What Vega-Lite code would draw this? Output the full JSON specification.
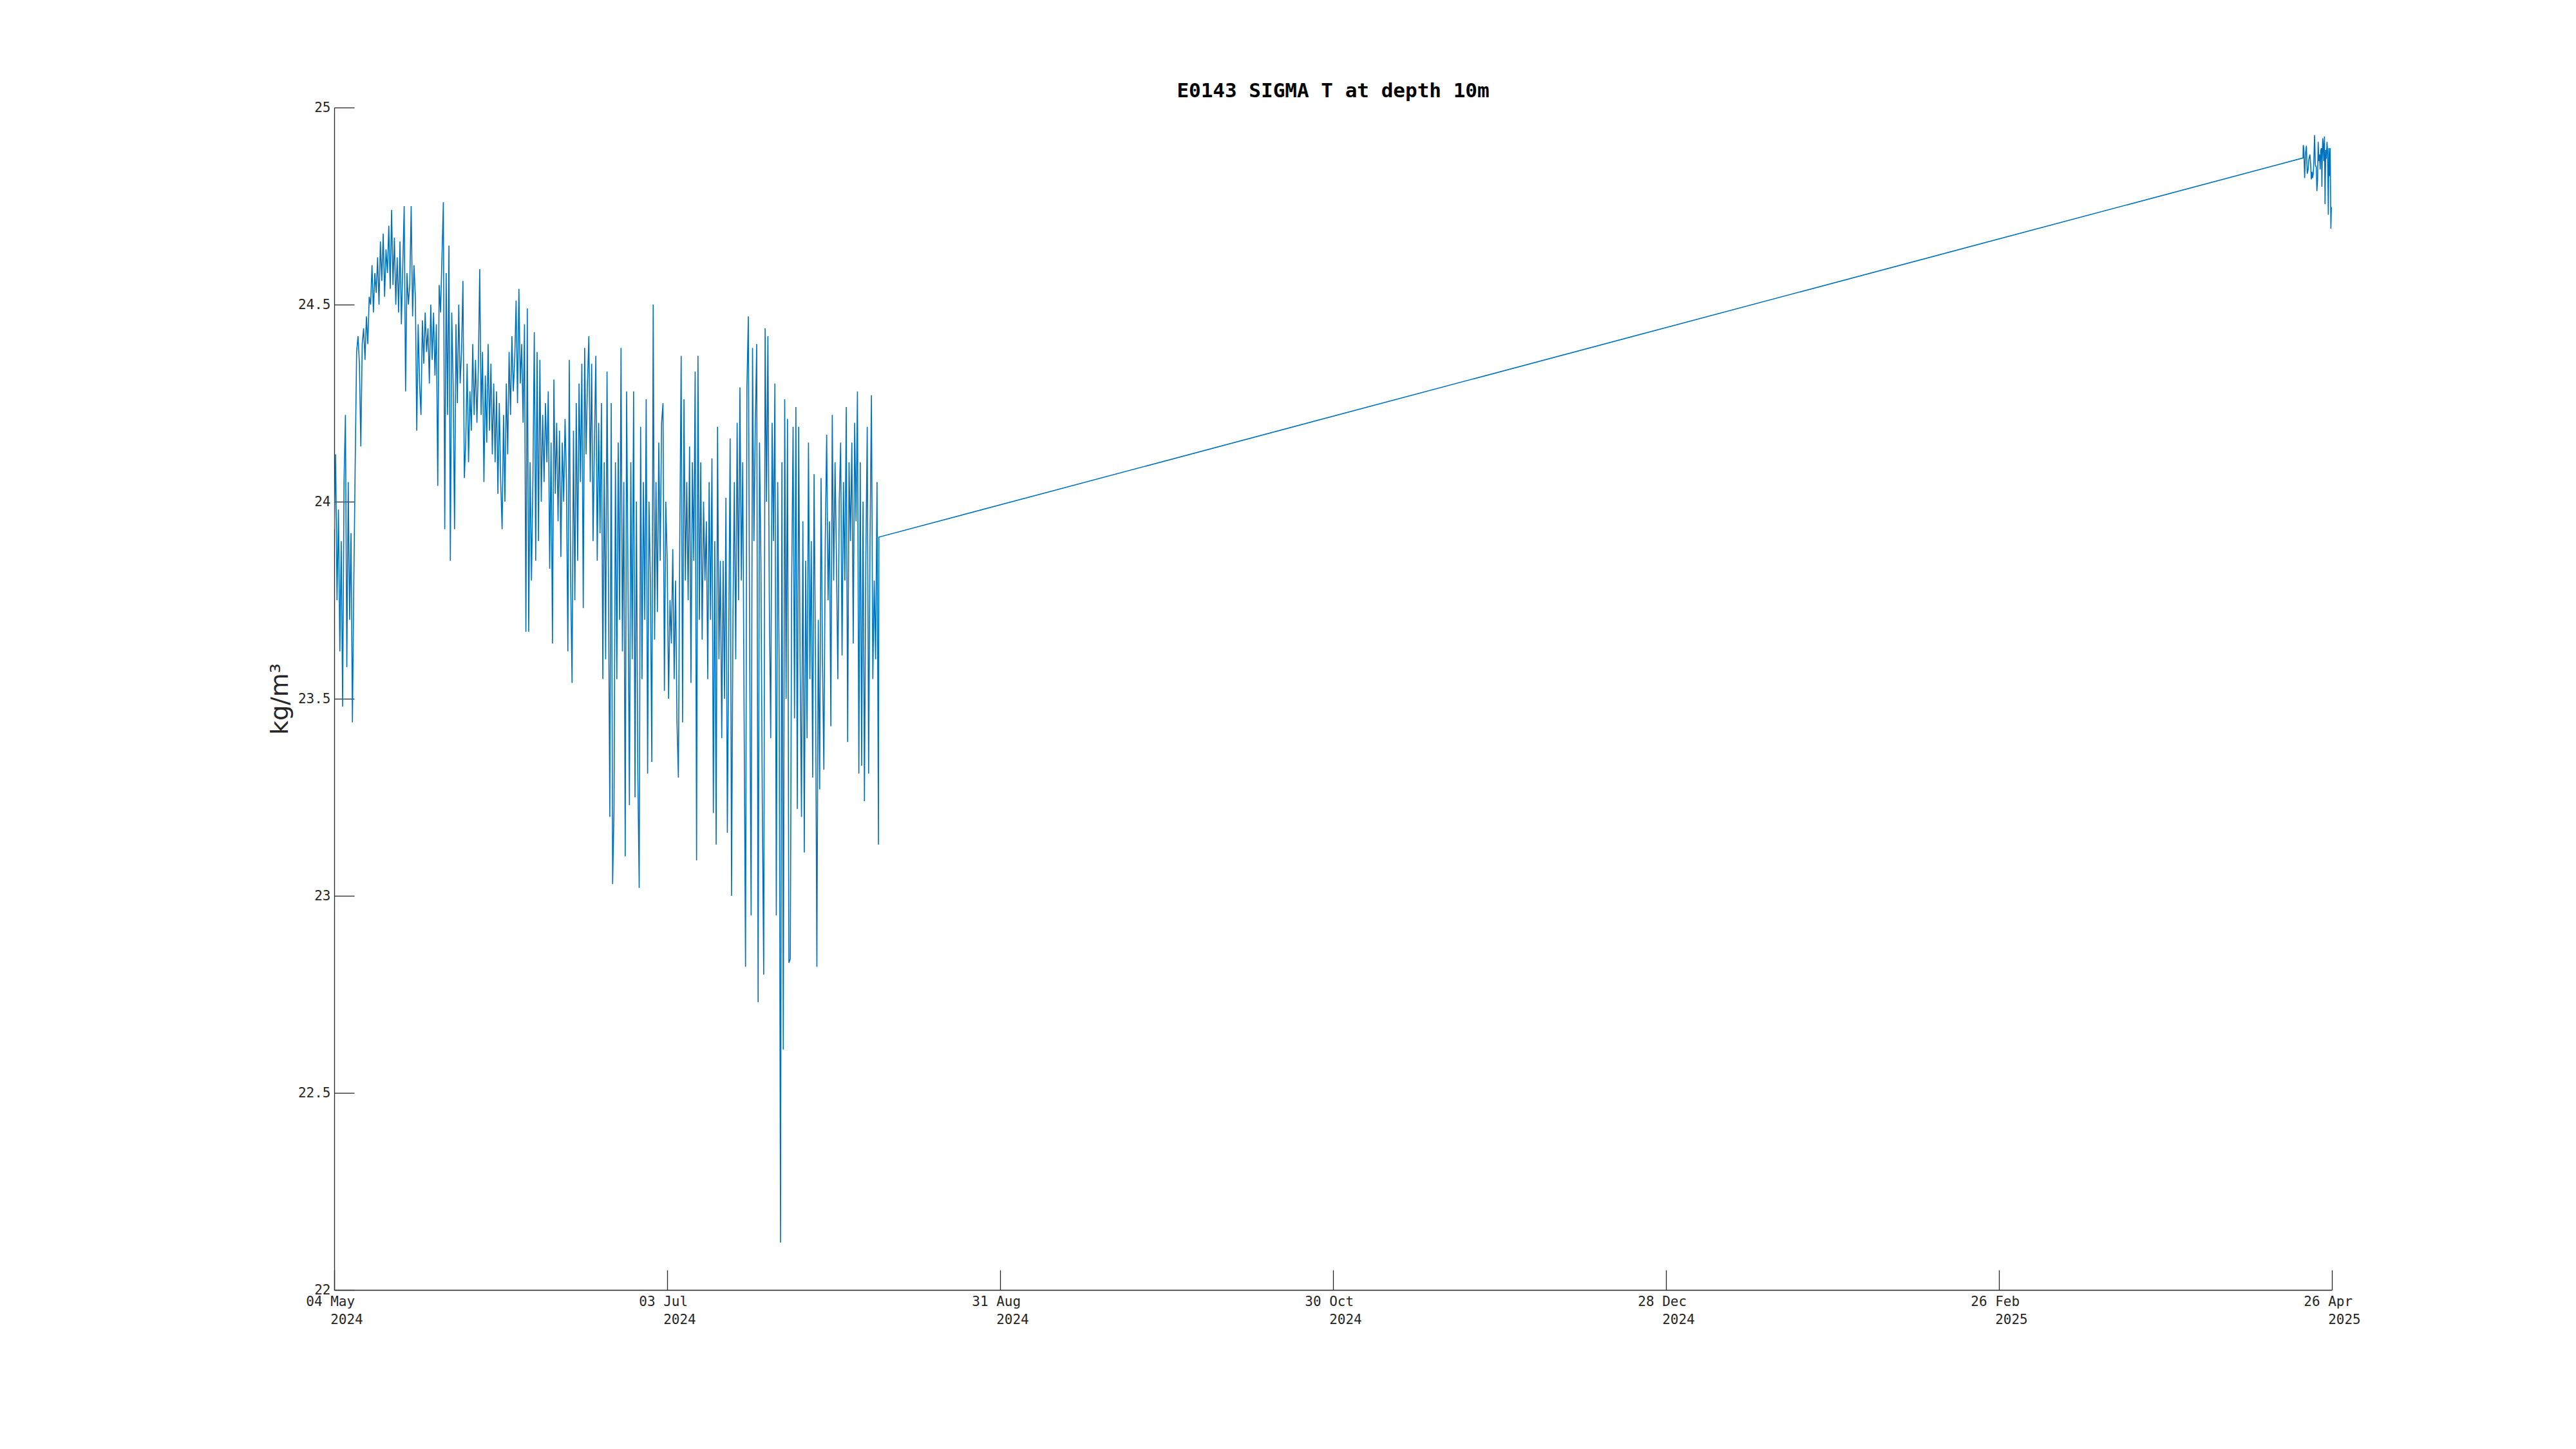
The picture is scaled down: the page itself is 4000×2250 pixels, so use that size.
{
"$schema":"https://vega.github.io/schema/vega-lite/v6.json",
"autosize":{"type":"none"},
"width":3102,"height":1836,
"padding":{"left":519,"top":167,"right":379,"bottom":247},
"background":"white",
"config":{"view":{"stroke":null}},
"title":{"text":"E0143 SIGMA T at depth 10m","font":"DejaVu Sans Mono","fontSize":31,"fontWeight":"bold","color":"#000000","anchor":"middle","frame":"group","baseline":"alphabetic","offset":15,"dy":41},
"data":{"values":[
{"t":"2024-05-04T12:00","v":23.93},{"t":"2024-05-04T18:00","v":24.12},
{"t":"2024-05-05T00:00","v":23.75},{"t":"2024-05-05T06:00","v":23.98},{"t":"2024-05-05T12:00","v":23.62},{"t":"2024-05-05T18:00","v":23.90},
{"t":"2024-05-06T00:00","v":23.48},{"t":"2024-05-06T06:00","v":24.05},{"t":"2024-05-06T12:00","v":24.22},{"t":"2024-05-06T18:00","v":23.58},
{"t":"2024-05-07T00:00","v":24.05},{"t":"2024-05-07T06:00","v":23.70},{"t":"2024-05-07T12:00","v":23.92},{"t":"2024-05-07T18:00","v":23.44},
{"t":"2024-05-08T00:00","v":23.80},{"t":"2024-05-08T06:00","v":24.10},{"t":"2024-05-08T12:00","v":24.38},{"t":"2024-05-08T18:00","v":24.42},
{"t":"2024-05-09T00:00","v":24.35},{"t":"2024-05-09T06:00","v":24.14},{"t":"2024-05-09T12:00","v":24.40},{"t":"2024-05-09T18:00","v":24.44},
{"t":"2024-05-10T00:00","v":24.36},{"t":"2024-05-10T06:00","v":24.47},{"t":"2024-05-10T12:00","v":24.40},{"t":"2024-05-10T18:00","v":24.52},
{"t":"2024-05-11T00:00","v":24.50},{"t":"2024-05-11T06:00","v":24.60},{"t":"2024-05-11T12:00","v":24.48},{"t":"2024-05-11T18:00","v":24.58},
{"t":"2024-05-12T00:00","v":24.53},{"t":"2024-05-12T06:00","v":24.62},{"t":"2024-05-12T12:00","v":24.50},{"t":"2024-05-12T18:00","v":24.66},
{"t":"2024-05-13T00:00","v":24.56},{"t":"2024-05-13T06:00","v":24.68},{"t":"2024-05-13T12:00","v":24.52},{"t":"2024-05-13T18:00","v":24.64},
{"t":"2024-05-14T00:00","v":24.58},{"t":"2024-05-14T06:00","v":24.70},{"t":"2024-05-14T12:00","v":24.54},{"t":"2024-05-14T18:00","v":24.74},
{"t":"2024-05-15T00:00","v":24.55},{"t":"2024-05-15T06:00","v":24.67},{"t":"2024-05-15T12:00","v":24.50},{"t":"2024-05-15T18:00","v":24.62},
{"t":"2024-05-16T00:00","v":24.48},{"t":"2024-05-16T06:00","v":24.66},{"t":"2024-05-16T12:00","v":24.45},{"t":"2024-05-16T18:00","v":24.60},
{"t":"2024-05-17T00:00","v":24.75},{"t":"2024-05-17T06:00","v":24.28},{"t":"2024-05-17T12:00","v":24.58},{"t":"2024-05-17T18:00","v":24.50},
{"t":"2024-05-18T00:00","v":24.55},{"t":"2024-05-18T06:00","v":24.75},{"t":"2024-05-18T12:00","v":24.47},{"t":"2024-05-18T18:00","v":24.60},
{"t":"2024-05-19T00:00","v":24.52},{"t":"2024-05-19T06:00","v":24.18},{"t":"2024-05-19T12:00","v":24.45},{"t":"2024-05-19T18:00","v":24.30},
{"t":"2024-05-20T00:00","v":24.22},{"t":"2024-05-20T06:00","v":24.46},{"t":"2024-05-20T12:00","v":24.35},{"t":"2024-05-20T18:00","v":24.48},
{"t":"2024-05-21T00:00","v":24.38},{"t":"2024-05-21T06:00","v":24.44},{"t":"2024-05-21T12:00","v":24.30},{"t":"2024-05-21T18:00","v":24.50},
{"t":"2024-05-22T00:00","v":24.36},{"t":"2024-05-22T06:00","v":24.48},{"t":"2024-05-22T12:00","v":24.32},{"t":"2024-05-22T18:00","v":24.45},
{"t":"2024-05-23T00:00","v":24.04},{"t":"2024-05-23T06:00","v":24.55},{"t":"2024-05-23T12:00","v":24.48},{"t":"2024-05-23T18:00","v":24.62},
{"t":"2024-05-24T00:00","v":24.76},{"t":"2024-05-24T06:00","v":23.93},{"t":"2024-05-24T12:00","v":24.58},{"t":"2024-05-24T18:00","v":24.22},
{"t":"2024-05-25T00:00","v":24.65},{"t":"2024-05-25T06:00","v":23.85},{"t":"2024-05-25T12:00","v":24.48},{"t":"2024-05-25T18:00","v":24.30},
{"t":"2024-05-26T00:00","v":23.93},{"t":"2024-05-26T06:00","v":24.45},{"t":"2024-05-26T12:00","v":24.25},{"t":"2024-05-26T18:00","v":24.50},
{"t":"2024-05-27T00:00","v":24.30},{"t":"2024-05-27T06:00","v":24.38},{"t":"2024-05-27T12:00","v":24.56},{"t":"2024-05-27T18:00","v":24.06},
{"t":"2024-05-28T00:00","v":24.15},{"t":"2024-05-28T06:00","v":24.35},{"t":"2024-05-28T12:00","v":24.10},{"t":"2024-05-28T18:00","v":24.28},
{"t":"2024-05-29T00:00","v":24.18},{"t":"2024-05-29T06:00","v":24.40},{"t":"2024-05-29T12:00","v":24.22},{"t":"2024-05-29T18:00","v":24.36},
{"t":"2024-05-30T00:00","v":24.20},{"t":"2024-05-30T06:00","v":24.34},{"t":"2024-05-30T12:00","v":24.59},{"t":"2024-05-30T18:00","v":24.22},
{"t":"2024-05-31T00:00","v":24.38},{"t":"2024-05-31T06:00","v":24.05},{"t":"2024-05-31T12:00","v":24.32},{"t":"2024-05-31T18:00","v":24.15},
{"t":"2024-06-01T00:00","v":24.40},{"t":"2024-06-01T06:00","v":24.18},{"t":"2024-06-01T12:00","v":24.35},{"t":"2024-06-01T18:00","v":24.12},
{"t":"2024-06-02T00:00","v":24.30},{"t":"2024-06-02T06:00","v":24.10},{"t":"2024-06-02T12:00","v":24.28},{"t":"2024-06-02T18:00","v":24.02},
{"t":"2024-06-03T00:00","v":24.25},{"t":"2024-06-03T06:00","v":24.05},{"t":"2024-06-03T12:00","v":23.93},{"t":"2024-06-03T18:00","v":24.22},
{"t":"2024-06-04T00:00","v":24.00},{"t":"2024-06-04T06:00","v":24.30},{"t":"2024-06-04T12:00","v":24.12},{"t":"2024-06-04T18:00","v":24.38},
{"t":"2024-06-05T00:00","v":24.22},{"t":"2024-06-05T06:00","v":24.42},{"t":"2024-06-05T12:00","v":24.28},{"t":"2024-06-05T18:00","v":24.36},
{"t":"2024-06-06T00:00","v":24.51},{"t":"2024-06-06T06:00","v":24.25},{"t":"2024-06-06T12:00","v":24.54},{"t":"2024-06-06T18:00","v":24.30},
{"t":"2024-06-07T00:00","v":24.40},{"t":"2024-06-07T06:00","v":24.20},{"t":"2024-06-07T12:00","v":24.45},{"t":"2024-06-07T18:00","v":23.67},
{"t":"2024-06-08T00:00","v":24.49},{"t":"2024-06-08T06:00","v":23.67},{"t":"2024-06-08T12:00","v":24.10},{"t":"2024-06-08T18:00","v":23.80},
{"t":"2024-06-09T00:00","v":24.05},{"t":"2024-06-09T06:00","v":24.43},{"t":"2024-06-09T12:00","v":23.85},{"t":"2024-06-09T18:00","v":24.38},
{"t":"2024-06-10T00:00","v":23.90},{"t":"2024-06-10T06:00","v":24.36},{"t":"2024-06-10T12:00","v":24.00},{"t":"2024-06-10T18:00","v":24.22},
{"t":"2024-06-11T00:00","v":24.05},{"t":"2024-06-11T06:00","v":24.25},{"t":"2024-06-11T12:00","v":24.10},{"t":"2024-06-11T18:00","v":24.28},
{"t":"2024-06-12T00:00","v":23.83},{"t":"2024-06-12T06:00","v":24.15},{"t":"2024-06-12T12:00","v":23.64},{"t":"2024-06-12T18:00","v":24.31},
{"t":"2024-06-13T00:00","v":24.02},{"t":"2024-06-13T06:00","v":24.20},{"t":"2024-06-13T12:00","v":23.95},{"t":"2024-06-13T18:00","v":24.18},
{"t":"2024-06-14T00:00","v":23.86},{"t":"2024-06-14T06:00","v":24.15},{"t":"2024-06-14T12:00","v":24.00},{"t":"2024-06-14T18:00","v":24.21},
{"t":"2024-06-15T00:00","v":24.05},{"t":"2024-06-15T06:00","v":23.62},{"t":"2024-06-15T12:00","v":24.36},{"t":"2024-06-15T18:00","v":23.80},
{"t":"2024-06-16T00:00","v":23.54},{"t":"2024-06-16T06:00","v":24.18},{"t":"2024-06-16T12:00","v":23.75},{"t":"2024-06-16T18:00","v":24.25},
{"t":"2024-06-17T00:00","v":23.85},{"t":"2024-06-17T06:00","v":24.30},{"t":"2024-06-17T12:00","v":24.05},{"t":"2024-06-17T18:00","v":24.35},
{"t":"2024-06-18T00:00","v":23.73},{"t":"2024-06-18T06:00","v":24.39},{"t":"2024-06-18T12:00","v":24.12},{"t":"2024-06-18T18:00","v":24.30},
{"t":"2024-06-19T00:00","v":24.42},{"t":"2024-06-19T06:00","v":24.05},{"t":"2024-06-19T12:00","v":24.35},{"t":"2024-06-19T18:00","v":23.90},
{"t":"2024-06-20T00:00","v":24.15},{"t":"2024-06-20T06:00","v":24.37},{"t":"2024-06-20T12:00","v":23.85},{"t":"2024-06-20T18:00","v":24.20},
{"t":"2024-06-21T00:00","v":23.92},{"t":"2024-06-21T06:00","v":24.25},{"t":"2024-06-21T12:00","v":23.55},{"t":"2024-06-21T18:00","v":24.10},
{"t":"2024-06-22T00:00","v":23.60},{"t":"2024-06-22T06:00","v":24.33},{"t":"2024-06-22T12:00","v":23.80},{"t":"2024-06-22T18:00","v":23.20},
{"t":"2024-06-23T00:00","v":24.25},{"t":"2024-06-23T06:00","v":23.03},{"t":"2024-06-23T12:00","v":23.22},{"t":"2024-06-23T18:00","v":24.10},
{"t":"2024-06-24T00:00","v":23.55},{"t":"2024-06-24T06:00","v":24.15},{"t":"2024-06-24T12:00","v":23.70},{"t":"2024-06-24T18:00","v":24.39},
{"t":"2024-06-25T00:00","v":23.62},{"t":"2024-06-25T06:00","v":24.05},{"t":"2024-06-25T12:00","v":23.10},{"t":"2024-06-25T18:00","v":24.28},
{"t":"2024-06-26T00:00","v":23.80},{"t":"2024-06-26T06:00","v":23.23},{"t":"2024-06-26T12:00","v":24.10},{"t":"2024-06-26T18:00","v":23.60},
{"t":"2024-06-27T00:00","v":24.28},{"t":"2024-06-27T06:00","v":23.25},{"t":"2024-06-27T12:00","v":24.00},{"t":"2024-06-27T18:00","v":23.31},
{"t":"2024-06-28T00:00","v":23.02},{"t":"2024-06-28T06:00","v":24.19},{"t":"2024-06-28T12:00","v":23.55},{"t":"2024-06-28T18:00","v":24.05},
{"t":"2024-06-29T00:00","v":23.70},{"t":"2024-06-29T06:00","v":24.26},{"t":"2024-06-29T12:00","v":23.31},{"t":"2024-06-29T18:00","v":24.00},
{"t":"2024-06-30T00:00","v":23.80},{"t":"2024-06-30T06:00","v":23.34},{"t":"2024-06-30T12:00","v":24.50},{"t":"2024-06-30T18:00","v":23.65},
{"t":"2024-07-01T00:00","v":24.05},{"t":"2024-07-01T06:00","v":23.72},{"t":"2024-07-01T12:00","v":24.15},{"t":"2024-07-01T18:00","v":23.85},
{"t":"2024-07-02T00:00","v":24.20},{"t":"2024-07-02T06:00","v":24.25},{"t":"2024-07-02T12:00","v":23.52},{"t":"2024-07-02T18:00","v":24.00},
{"t":"2024-07-03T00:00","v":23.85},{"t":"2024-07-03T06:00","v":23.50},{"t":"2024-07-03T12:00","v":23.75},{"t":"2024-07-03T18:00","v":23.64},
{"t":"2024-07-04T00:00","v":23.88},{"t":"2024-07-04T06:00","v":23.55},{"t":"2024-07-04T12:00","v":23.80},{"t":"2024-07-04T18:00","v":23.44},
{"t":"2024-07-05T00:00","v":23.30},{"t":"2024-07-05T06:00","v":23.90},{"t":"2024-07-05T12:00","v":24.37},{"t":"2024-07-05T18:00","v":23.44},
{"t":"2024-07-06T00:00","v":24.26},{"t":"2024-07-06T06:00","v":23.80},{"t":"2024-07-06T12:00","v":24.05},{"t":"2024-07-06T18:00","v":23.75},
{"t":"2024-07-07T00:00","v":24.14},{"t":"2024-07-07T06:00","v":23.54},{"t":"2024-07-07T12:00","v":24.10},{"t":"2024-07-07T18:00","v":23.85},
{"t":"2024-07-08T00:00","v":24.33},{"t":"2024-07-08T06:00","v":23.09},{"t":"2024-07-08T12:00","v":24.37},{"t":"2024-07-08T18:00","v":23.70},
{"t":"2024-07-09T00:00","v":24.10},{"t":"2024-07-09T06:00","v":23.65},{"t":"2024-07-09T12:00","v":24.00},{"t":"2024-07-09T18:00","v":23.80},
{"t":"2024-07-10T00:00","v":23.95},{"t":"2024-07-10T06:00","v":23.55},{"t":"2024-07-10T12:00","v":24.05},{"t":"2024-07-10T18:00","v":23.70},
{"t":"2024-07-11T00:00","v":24.11},{"t":"2024-07-11T06:00","v":23.21},{"t":"2024-07-11T12:00","v":23.90},{"t":"2024-07-11T18:00","v":23.13},
{"t":"2024-07-12T00:00","v":24.19},{"t":"2024-07-12T06:00","v":23.60},{"t":"2024-07-12T12:00","v":23.85},{"t":"2024-07-12T18:00","v":23.40},
{"t":"2024-07-13T00:00","v":23.85},{"t":"2024-07-13T06:00","v":23.50},{"t":"2024-07-13T12:00","v":24.01},{"t":"2024-07-13T18:00","v":23.16},
{"t":"2024-07-14T00:00","v":23.65},{"t":"2024-07-14T06:00","v":24.16},{"t":"2024-07-14T12:00","v":23.00},{"t":"2024-07-14T18:00","v":23.70},
{"t":"2024-07-15T00:00","v":24.05},{"t":"2024-07-15T06:00","v":23.60},{"t":"2024-07-15T12:00","v":24.20},{"t":"2024-07-15T18:00","v":23.75},
{"t":"2024-07-16T00:00","v":24.29},{"t":"2024-07-16T06:00","v":23.80},{"t":"2024-07-16T12:00","v":24.10},{"t":"2024-07-16T18:00","v":23.45},
{"t":"2024-07-17T00:00","v":22.82},{"t":"2024-07-17T06:00","v":24.29},{"t":"2024-07-17T12:00","v":24.47},{"t":"2024-07-17T18:00","v":23.60},
{"t":"2024-07-18T00:00","v":22.95},{"t":"2024-07-18T06:00","v":24.39},{"t":"2024-07-18T12:00","v":23.90},{"t":"2024-07-18T18:00","v":24.20},
{"t":"2024-07-19T00:00","v":24.40},{"t":"2024-07-19T06:00","v":22.73},{"t":"2024-07-19T12:00","v":24.15},{"t":"2024-07-19T18:00","v":23.85},
{"t":"2024-07-20T00:00","v":23.23},{"t":"2024-07-20T06:00","v":22.80},{"t":"2024-07-20T12:00","v":24.44},{"t":"2024-07-20T18:00","v":24.00},
{"t":"2024-07-21T00:00","v":24.42},{"t":"2024-07-21T06:00","v":23.75},{"t":"2024-07-21T12:00","v":23.40},{"t":"2024-07-21T18:00","v":24.20},
{"t":"2024-07-22T00:00","v":23.90},{"t":"2024-07-22T06:00","v":24.30},{"t":"2024-07-22T12:00","v":22.95},{"t":"2024-07-22T18:00","v":24.05},
{"t":"2024-07-23T00:00","v":23.60},{"t":"2024-07-23T06:00","v":22.12},{"t":"2024-07-23T12:00","v":24.10},{"t":"2024-07-23T18:00","v":22.61},
{"t":"2024-07-24T00:00","v":24.26},{"t":"2024-07-24T06:00","v":23.50},{"t":"2024-07-24T12:00","v":24.21},{"t":"2024-07-24T18:00","v":22.83},
{"t":"2024-07-25T00:00","v":22.84},{"t":"2024-07-25T06:00","v":23.80},{"t":"2024-07-25T12:00","v":24.19},{"t":"2024-07-25T18:00","v":23.45},
{"t":"2024-07-26T00:00","v":24.24},{"t":"2024-07-26T06:00","v":23.22},{"t":"2024-07-26T12:00","v":24.19},{"t":"2024-07-26T18:00","v":23.60},
{"t":"2024-07-27T00:00","v":23.20},{"t":"2024-07-27T06:00","v":23.95},{"t":"2024-07-27T12:00","v":23.11},{"t":"2024-07-27T18:00","v":23.85},
{"t":"2024-07-28T00:00","v":23.40},{"t":"2024-07-28T06:00","v":24.15},{"t":"2024-07-28T12:00","v":23.55},{"t":"2024-07-28T18:00","v":23.90},
{"t":"2024-07-29T00:00","v":23.30},{"t":"2024-07-29T06:00","v":24.07},{"t":"2024-07-29T12:00","v":23.60},{"t":"2024-07-29T18:00","v":22.82},
{"t":"2024-07-30T00:00","v":23.70},{"t":"2024-07-30T06:00","v":23.27},{"t":"2024-07-30T12:00","v":24.06},{"t":"2024-07-30T18:00","v":23.60},
{"t":"2024-07-31T00:00","v":23.32},{"t":"2024-07-31T06:00","v":23.90},{"t":"2024-07-31T12:00","v":24.17},{"t":"2024-07-31T18:00","v":23.75},
{"t":"2024-08-01T00:00","v":23.95},{"t":"2024-08-01T06:00","v":23.43},{"t":"2024-08-01T12:00","v":24.22},{"t":"2024-08-01T18:00","v":23.80},
{"t":"2024-08-02T00:00","v":24.10},{"t":"2024-08-02T06:00","v":23.85},{"t":"2024-08-02T12:00","v":23.55},{"t":"2024-08-02T18:00","v":24.00},
{"t":"2024-08-03T00:00","v":24.15},{"t":"2024-08-03T06:00","v":23.61},{"t":"2024-08-03T12:00","v":24.05},{"t":"2024-08-03T18:00","v":23.80},
{"t":"2024-08-04T00:00","v":24.24},{"t":"2024-08-04T06:00","v":23.39},{"t":"2024-08-04T12:00","v":24.10},{"t":"2024-08-04T18:00","v":23.90},
{"t":"2024-08-05T00:00","v":24.15},{"t":"2024-08-05T06:00","v":23.64},{"t":"2024-08-05T12:00","v":24.20},{"t":"2024-08-05T18:00","v":23.95},
{"t":"2024-08-06T00:00","v":24.28},{"t":"2024-08-06T06:00","v":23.31},{"t":"2024-08-06T12:00","v":24.10},{"t":"2024-08-06T18:00","v":23.33},
{"t":"2024-08-07T00:00","v":24.00},{"t":"2024-08-07T06:00","v":23.24},{"t":"2024-08-07T12:00","v":23.85},{"t":"2024-08-07T18:00","v":24.19},
{"t":"2024-08-08T00:00","v":23.31},{"t":"2024-08-08T06:00","v":23.90},{"t":"2024-08-08T12:00","v":24.27},{"t":"2024-08-08T18:00","v":23.55},
{"t":"2024-08-09T00:00","v":23.80},{"t":"2024-08-09T06:00","v":23.60},{"t":"2024-08-09T12:00","v":24.05},{"t":"2024-08-09T18:00","v":23.13},
{"t":"2024-08-09T20:00","v":23.91},
{"t":"2025-04-21T08:00","v":24.872},{"t":"2025-04-21T09:00","v":24.905},{"t":"2025-04-21T11:30","v":24.897},{"t":"2025-04-21T15:00","v":24.821},
{"t":"2025-04-21T19:00","v":24.886},{"t":"2025-04-21T22:30","v":24.903},{"t":"2025-04-22T02:00","v":24.832},{"t":"2025-04-22T06:00","v":24.843},
{"t":"2025-04-22T09:30","v":24.870},{"t":"2025-04-22T13:30","v":24.881},{"t":"2025-04-22T17:00","v":24.854},{"t":"2025-04-22T19:30","v":24.818},
{"t":"2025-04-22T22:30","v":24.837},{"t":"2025-04-23T01:00","v":24.821},{"t":"2025-04-23T04:00","v":24.832},{"t":"2025-04-23T06:30","v":24.864},
{"t":"2025-04-23T09:30","v":24.930},{"t":"2025-04-23T13:00","v":24.854},{"t":"2025-04-23T17:00","v":24.848},{"t":"2025-04-23T19:30","v":24.788},
{"t":"2025-04-23T22:30","v":24.816},{"t":"2025-04-24T01:00","v":24.913},{"t":"2025-04-24T04:00","v":24.864},{"t":"2025-04-24T06:30","v":24.881},
{"t":"2025-04-24T09:30","v":24.843},{"t":"2025-04-24T12:00","v":24.892},{"t":"2025-04-24T15:00","v":24.897},{"t":"2025-04-24T17:00","v":24.799},
{"t":"2025-04-24T18:30","v":24.870},{"t":"2025-04-24T20:30","v":24.922},{"t":"2025-04-24T22:30","v":24.908},{"t":"2025-04-25T01:00","v":24.864},
{"t":"2025-04-25T04:00","v":24.927},{"t":"2025-04-25T06:30","v":24.755},{"t":"2025-04-25T09:30","v":24.892},{"t":"2025-04-25T12:00","v":24.870},
{"t":"2025-04-25T15:00","v":24.913},{"t":"2025-04-25T17:30","v":24.886},{"t":"2025-04-25T20:30","v":24.728},{"t":"2025-04-25T23:00","v":24.897},
{"t":"2025-04-26T02:00","v":24.826},{"t":"2025-04-26T04:30","v":24.897},{"t":"2025-04-26T07:30","v":24.693},{"t":"2025-04-26T09:30","v":24.745},
{"t":"2025-04-26T11:00","v":24.747}
]},
"mark":{"type":"line","color":"#0072BD","strokeWidth":1.6,"clip":true},
"encoding":{
"x":{"field":"t","type":"temporal",
"scale":{"domain":[{"year":2024,"month":5,"date":4,"hours":12},{"year":2025,"month":4,"date":26,"hours":12}]},
"axis":{"title":null,"grid":false,
"values":[{"year":2024,"month":5,"date":4,"hours":12},{"year":2024,"month":7,"date":3,"hours":0},{"year":2024,"month":8,"date":31,"hours":12},{"year":2024,"month":10,"date":30,"hours":0},{"year":2024,"month":12,"date":28,"hours":12},{"year":2025,"month":2,"date":26,"hours":0},{"year":2025,"month":4,"date":26,"hours":12}],
"labelExpr":"[timeFormat(datum.value, '%d %b') + '\u00a0\u200b', '\u200b\u00a0\u00a0\u00a0' + timeFormat(datum.value, '%Y')]",
"labelFont":"DejaVu Sans Mono","labelFontSize":21,"labelColor":"#262626","labelLineHeight":28,
"labelAlign":"center","labelBaseline":"top","labelPadding":38,"labelFlush":false,"labelOverlap":false,
"tickSize":-31,"tickColor":"#262626","tickWidth":1.3,
"domainColor":"#262626","domainWidth":1.3}},
"y":{"field":"v","type":"quantitative",
"scale":{"domain":[22,25],"nice":false,"zero":false},
"axis":{"title":"kg/m³","grid":false,"values":[22,22.5,23,23.5,24,24.5,25],"format":"~g",
"labelFont":"DejaVu Sans Mono","labelFontSize":21,"labelColor":"#262626","labelPadding":37,"labelFlush":false,"labelOverlap":false,
"tickSize":-31,"tickColor":"#262626","tickWidth":1.3,
"domainColor":"#262626","domainWidth":1.3,
"titleFont":"DejaVu Sans","titleFontSize":38,"titleFontWeight":"normal","titleColor":"#262626",
"titleAngle":-90,"titleAlign":"center","titleBaseline":"alphabetic","titleX":-73,"titleY":918}}
}
}
